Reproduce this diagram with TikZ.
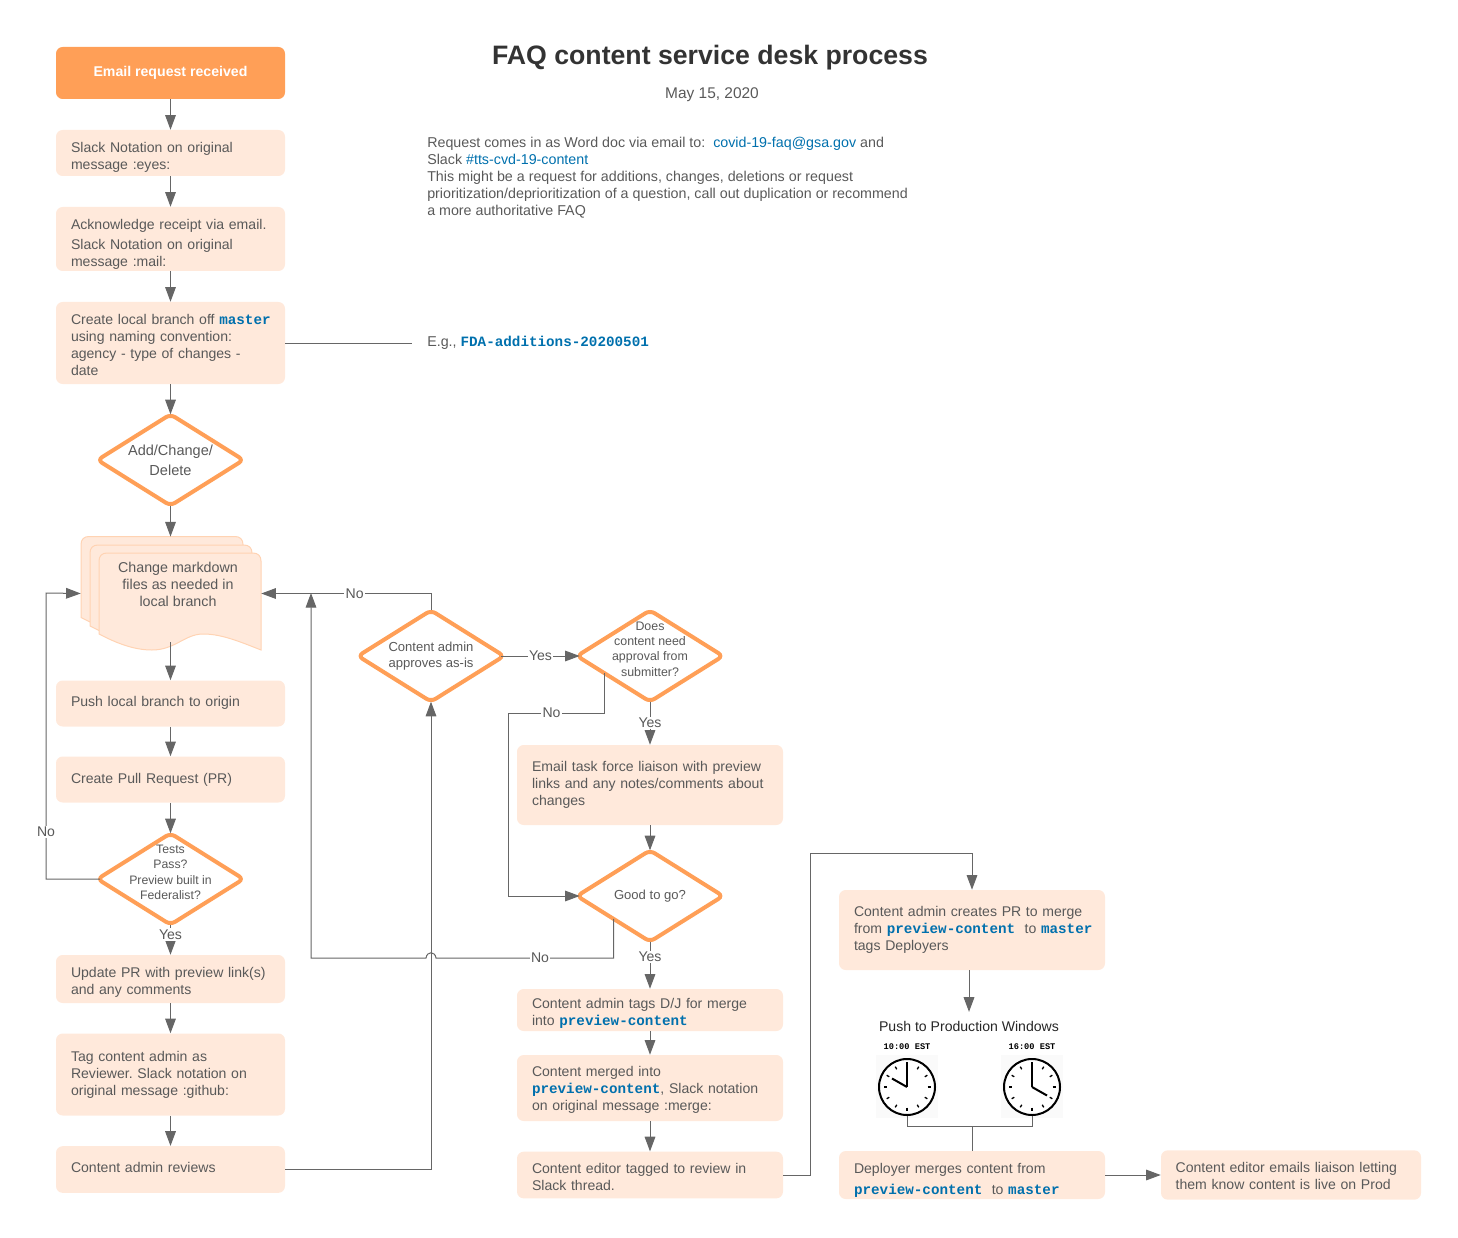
\documentclass[tikz,border=0pt]{standalone}
\usepackage{fontspec}
\setmainfont{Liberation Sans}
\setmonofont{Liberation Mono}
\usetikzlibrary{shapes,arrows.meta,calc}
\definecolor{boxfill}{HTML}{FFE9DB}
\definecolor{boxedge}{HTML}{FFD3B3}
\definecolor{orangeline}{HTML}{FF9F57}
\definecolor{linegray}{HTML}{666666}
\definecolor{textgray}{HTML}{595959}
\definecolor{linkblue}{HTML}{0070AD}
\newcommand{\codeword}[1]{\textcolor{linkblue}{\fontsize{10.7}{12.75}\ttfamily\bfseries #1}}
\frenchspacing
\tikzset{
	flowbox/.style={rectangle, rounded corners=5pt, fill=boxfill, text=textgray, font=\fontsize{10.55}{12.75}\selectfont, align=left, inner xsep=0pt, inner ysep=0pt, execute at begin node={\rightskip=-25pt plus 1fil\relax}},
	textdown/.style={execute at begin node={\vskip #1\relax}},
	startbox/.style={rectangle, rounded corners=5pt, fill=orangeline, text=white, font=\fontsize{10.6}{12.75}\selectfont\bfseries, minimum width=171.75pt, minimum height=39pt, inner sep=0pt},
	leftbox/.style={flowbox, minimum width=171.75pt, text width=149.25pt},
	midbox/.style={flowbox, minimum width=199.5pt, text width=177pt},
	decision/.style={diamond, draw=orangeline, line width=3pt, rounded corners=4pt, fill=white, minimum width=109.5pt, minimum height=68.5pt, inner sep=0pt, outer sep=0pt},
	dtext/.style={text=textgray, align=center, inner sep=0pt},
	elabel/.style={fill=white, text=textgray, font=\fontsize{10.55}{12.75}\selectfont, inner sep=1pt},
	link/.style={draw=linegray, line width=.75pt},
	plaintext/.style={text=textgray, font=\fontsize{10.7}{12.75}\selectfont, align=left, inner sep=0pt},
	clockface/.style={circle, draw=black, line width=1.5pt, fill=white, minimum size=42pt, inner sep=0pt},
	clocktime/.style={font=\fontsize{6.5}{8}\ttfamily\bfseries, text=black, inner sep=0pt},
	>={Triangle[length=11pt,width=8pt]}
}
\begin{document}
\begin{tikzpicture}[x=.75pt,y=-.75pt]
	\useasboundingbox (0,0) rectangle (1458,1237);

	% title and notes
	\node[font=\fontsize{20}{24}\selectfont\bfseries, text=black!80, inner sep=0pt] (title) at (710,58) {FAQ content service desk process};
	\node[plaintext, font=\fontsize{11.6}{14}\selectfont] (date) at (712,95) {May 15, 2020};
	\node[plaintext, anchor=north west] (notes) at (427,137) {Request comes in as Word doc via email to:\ \ \textcolor{linkblue}{covid-19-faq@gsa.gov} and\\
		Slack \textcolor{linkblue}{\#tts-cvd-19-content}\\
		This might be a request for additions, changes, deletions or request\\
		prioritization/deprioritization of a question, call out duplication or recommend\\
		a more authoritative FAQ};
	\node[plaintext, anchor=west] (egText) at (427,343) {E.g., \codeword{FDA-additions-20200501}};
	\coordinate (egEnd) at (412,343);

	% left column
	\node[startbox] (mail) at (170.5,73) {Email request received};
	\node[leftbox, minimum height=34.5pt, textdown=1.5pt] (eyes) at (170.5,153) {Slack Notation on original\\message :eyes:};
	\node[leftbox, minimum height=48pt, textdown=3pt] (ack) at (170.5,239) {Acknowledge receipt via email.\\[2pt]Slack Notation on original\\message :mail:};
	\node[leftbox, minimum height=61.5pt, textdown=-2pt] (branch) at (170.5,343) {Create local branch off \codeword{master}\\using naming convention:\\agency - type of changes -\\date};
	\node[decision] (dAdd) at (170.5,460) {};
	\node[dtext, font=\fontsize{10.9}{15}\selectfont] (tAdd) at (dAdd) {Add/Change/\\Delete};

	% stack of pages
	\foreach \dx/\dy in {-18/-16.5,-9/-8,0/0}{
		\draw[fill=boxfill, draw=boxedge, line width=.75pt, shift={(\dx,\dy)}] (99,634) -- (99,561) .. controls (99,556) and (102,553) .. (107,553) -- (253,553) .. controls (258,553) and (261,556) .. (261,561) -- (261,650) .. controls (236,640) and (220,634) .. (203,634) .. controls (185,634) and (175,650) .. (152,650) .. controls (135,650) and (118,644) .. (99,634) -- cycle;
	}
	\node[minimum width=135pt, minimum height=85pt, inner sep=0pt] (docs) at (171,593.5) {};
	\node[dtext, font=\fontsize{10.7}{12.75}\selectfont] (tDocs) at (178,584.5) {Change markdown\\files as needed in\\local branch};

	\node[leftbox, minimum height=34.5pt, textdown=-6pt] (push) at (170.5,703.5) {Push local branch to origin};
	\node[leftbox, minimum height=34.5pt] (pull) at (170.5,779.5) {Create Pull Request (PR)};
	\node[decision] (dTests) at (170.5,879) {};
	\node[dtext, font=\fontsize{9.2}{11.3}\selectfont] (tTests) at (170.5,872.5) {Tests\\Pass?\\[1pt]Preview built in\\Federalist?};
	\node[leftbox, minimum height=36pt, textdown=0pt] (update) at (170.5,979) {Update PR with preview link(s)\\and any comments};
	\node[leftbox, minimum height=61.5pt] (tag) at (170.5,1074.5) {Tag content admin as\\Reviewer. Slack notation on\\original message :github:};
	\node[leftbox, minimum height=35pt, textdown=-7.5pt] (review) at (170.5,1169.5) {Content admin reviews};

	% middle column
	\node[decision] (dApprove) at (431,656) {};
	\node[dtext, font=\fontsize{9.8}{12.4}\selectfont] (tApprove) at (dApprove) {Content admin\\approves as-is};
	\node[decision] (dDoes) at (650,656) {};
	\node[dtext, font=\fontsize{9.3}{11.5}\selectfont] (tDoes) at (650,649) {Does\\content need\\approval from\\submitter?};
	\node[midbox, minimum height=60pt] (liaison) at (650,785) {Email task force liaison with preview\\links and any notes/comments about\\changes};
	\node[decision] (dGood) at (650,896) {};
	\node[dtext, font=\fontsize{9.8}{12.4}\selectfont] (tGood) at (dGood) {Good to go?};
	\node[midbox, minimum height=31.5pt, textdown=0pt] (dj) at (650,1010) {Content admin tags D/J for merge\\into \codeword{preview-content}};
	\node[midbox, minimum height=49.5pt, textdown=-3pt] (merged) at (650,1088) {Content merged into\\\codeword{preview-content}, Slack notation\\on original message :merge:};
	\node[midbox, minimum height=35pt, textdown=-1.5pt] (editor) at (650,1175) {Content editor tagged to review in\\Slack thread.};

	% right column
	\node[midbox, minimum height=60pt] (prMerge) at (972,930) {Content admin creates PR to merge\\from \codeword{preview-content}\ \ to \codeword{master}\\tags Deployers};
	\node[plaintext, text=black!85, font=\fontsize{10.55}{12.75}\selectfont] (pushText) at (969,1026) {Push to Production Windows};
	\node[clocktime] (timeA) at (907,1047) {10:00 EST};
	\node[clocktime] (timeB) at (1032,1047) {16:00 EST};
	\fill[black!2] (876,1055) rectangle (938,1118);
	\fill[black!2] (1001,1055) rectangle (1063,1118);
	\node[clockface] (clockA) at (907,1087) {};
	\node[clockface] (clockB) at (1032,1087) {};
	\foreach \a in {0,30,...,330}{
		\draw[black, line width=1pt] ($(clockA)+(\a:20.5)$) -- ($(clockA)+(\a:23.5)$);
		\draw[black, line width=1pt] ($(clockB)+(\a:20.5)$) -- ($(clockB)+(\a:23.5)$);
	}
	\draw[black, line width=1.5pt] (clockA.center) -- +(0,-25);
	\draw[black, line width=1.5pt] (clockA.center) -- +(-15,-8.5);
	\draw[black, line width=1.5pt] (clockB.center) -- +(0,-25);
	\draw[black, line width=1.5pt] (clockB.center) -- +(15,8.5);
	\node[midbox, minimum height=36pt, textdown=2.7pt] (deploy) at (972,1175) {Deployer merges content from\\[3pt]\codeword{preview-content}\ \ to \codeword{master}};
	\node[flowbox, minimum width=195pt, text width=173pt, minimum height=37pt, textdown=-3pt] (tell) at (1291,1175) {Content editor emails liaison letting\\them know content is live on Prod};

	% connectors
	\draw[link,->] (mail) -- (eyes);
	\draw[link,->] (eyes) -- (ack);
	\draw[link,->] (ack) -- (branch);
	\draw[link,->] (branch) -- (dAdd);
	\draw[link,->] (dAdd.south) -- (dAdd.south |- docs.north);
	\draw[link,->, shorten <=-6pt] (push.north |- docs.south) -- (push.north);
	\draw[link,->] (push) -- (pull);
	\draw[link,->] (pull) -- (dTests);
	\draw[link,->] (dTests) -- node[elabel, pos=.33] (lblTestsYes) {Yes} (update);
	\draw[link,->] (update) -- (tag);
	\draw[link,->] (tag) -- (review);
	\draw[link] (branch.east) -- (egEnd);
	\draw[link,->, shorten <=-2pt] (dTests.west) -| node[elabel, pos=.582] (lblTestsNo) {No} (46,593) -- (docs.west);

	\draw[link,->] (review.east) -| (dApprove.south);
	\draw[link,->] (dApprove.north) |- node[elabel, pos=.725] (lblApproveNo) {No} (docs.east);
	\draw[link,->, shorten <=-2pt, shorten >=-2pt] (dApprove.east) -- node[elabel] (lblApproveYes) {Yes} (dDoes.west);
	\draw[link,->, shorten >=-2pt] ($(dDoes.south)!.62!(dDoes.west)$) |- node[elabel, pos=.775] (lblDoesNo) {No} (508,713) |- (dGood.west);
	\draw[link,->] (dDoes.south) -- node[elabel] (lblDoesYes) {Yes} (liaison.north);
	\draw[link,->] (liaison) -- (dGood);
	\draw[link,->] (dGood.south) -- node[elabel, pos=.33] (lblGoodYes) {Yes} (dj.north);
	\draw[link,->] (dGood.south west) |- (436,958) .. controls (435,951) and (427,951) .. (426,958) -- (311,958) -- (311,593);
	\node[elabel] (lblGoodNo) at (540,958) {No};
	\draw[link,->] (dj) -- (merged);
	\draw[link,->] (merged) -- (editor);

	\draw[link,->] (editor.east) -- (810,1175) |- (972,853) -- (prMerge.north);
	\draw[link,->, shorten >=6.5pt] (pushText.north |- prMerge.south) -- (pushText.north);
	\draw[link] (clockA.south) |- (clockB.south |- 0,1126) -- (clockB.south);
	\draw[link] (deploy.north) -- (deploy.north |- 0,1126);
	\draw[link,->] (deploy.east) -- (tell.west);
\end{tikzpicture}
\end{document}
